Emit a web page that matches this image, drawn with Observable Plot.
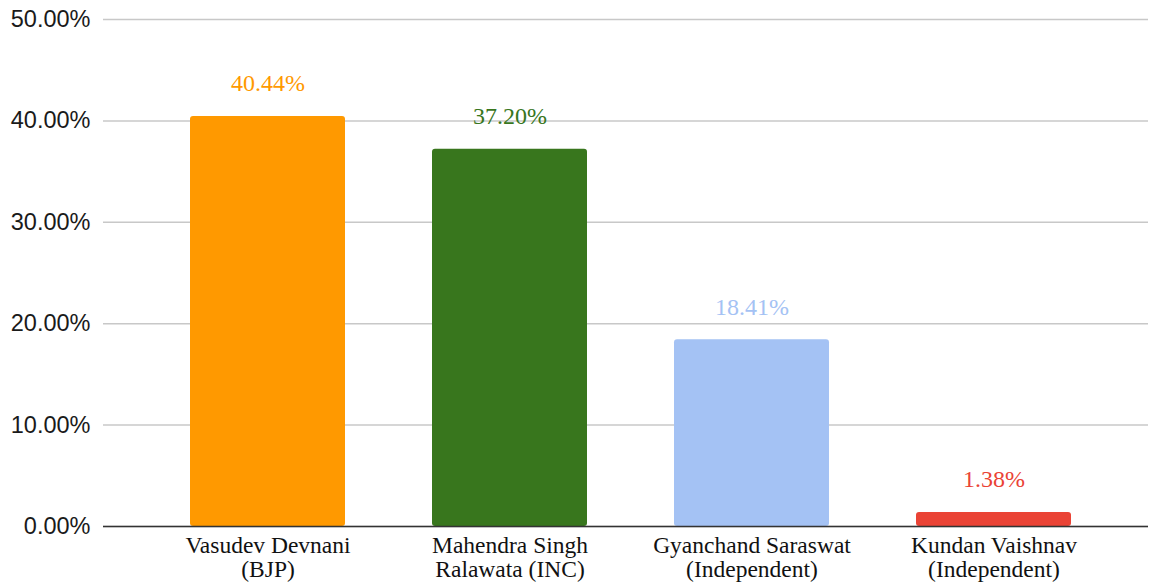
<!DOCTYPE html>
<html><head><meta charset="utf-8">
<script src="https://cdn.jsdelivr.net/npm/d3@7"></script>
<script src="https://cdn.jsdelivr.net/npm/@observablehq/plot@0.6"></script>
<style>body{margin:0;background:#fff}</style>
</head><body><div id="chart"></div>
<script>
const candidates = ["Vasudev Devnani\n(BJP)", "Mahendra Singh\nRalawata (INC)", "Gyanchand Saraswat\n(Independent)", "Kundan Vaishnav\n(Independent)"];
const voteShares = [40.44, 37.20, 18.41, 1.38];
const barColors = ["#FF9900", "#38761D", "#A4C2F4", "#EA4335"];
const yTicks = [0, 10, 20, 30, 40, 50];

const data = candidates.map((c, i) => ({candidate: c, share: voteShares[i], color: barColors[i]}));

const chart = Plot.plot({
  width: 1150, height: 585,
  marginLeft: 103, marginRight: 2, marginTop: 19, marginBottom: 59,
  style: {fontFamily: "'Liberation Sans', Arial, sans-serif", background: "#fff", color: "#000", overflow: "visible"},
  x: {domain: candidates, range: [190, 1071], paddingInner: 0.36, paddingOuter: 0, label: null},
  y: {domain: [0, 50], label: null},
  color: {type: "identity"},
  marks: [
    Plot.gridY(yTicks, {stroke: "#c8c8c8", strokeOpacity: 1, strokeWidth: 1.5}),
    Plot.axisY(yTicks, {tickSize: 0, tickPadding: 13, tickFormat: d => d.toFixed(2) + "%", fontSize: 23.5, fill: "#1a1a1a", label: null}),
    Plot.barY(data, {x: "candidate", y: "share", fill: "color", rx: 3}),
    Plot.ruleY([0], {stroke: "#333", strokeWidth: 1.5}),
    Plot.text(data, {x: "candidate", y: "share", text: d => d.share.toFixed(2) + "%", fill: "color", dy: -33, lineAnchor: "middle", fontSize: 24, fontFamily: "'Liberation Serif', serif"}),
    Plot.axisX({tickSize: 0, tickPadding: 10, fontSize: 23.5, lineHeight: 1, fontFamily: "'Liberation Serif', serif", fill: "#111", label: null})
  ]
});
document.getElementById("chart").appendChild(chart);
</script>
</body></html>
